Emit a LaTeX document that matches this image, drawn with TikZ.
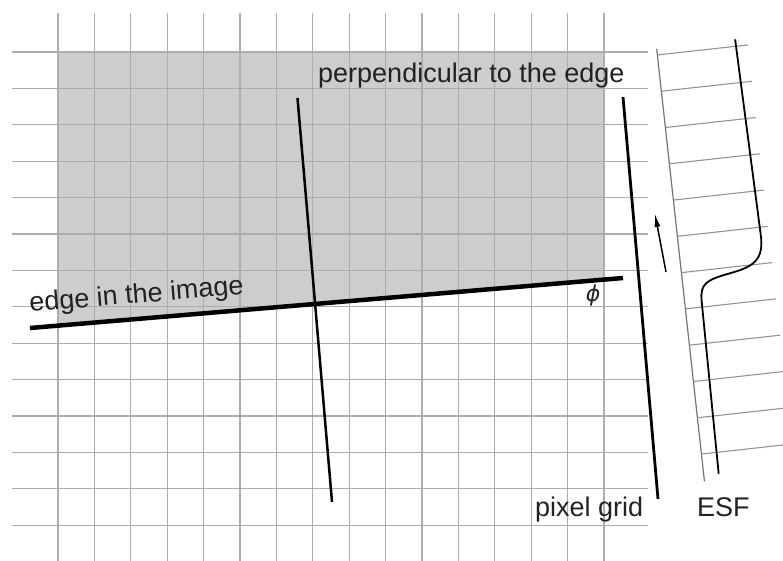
\documentclass[tikz,border=0pt]{standalone}
\usepackage{fontspec}
\setmainfont{Liberation Sans}
\newfontfamily\phifont{DejaVu Sans}
\usetikzlibrary{arrows.meta}
\definecolor{gridgray}{HTML}{ADADAD}
\definecolor{shadegray}{HTML}{CDCDCD}
\definecolor{ink}{HTML}{222222}

\begin{document}
\begin{tikzpicture}[x=1pt,y=-1pt,
    gridline/.style={draw=gridgray, line width=1.3pt},
    rung/.style={draw=gray!85, line width=1.1pt},
    label/.style={inner sep=0pt, text=ink, font=\fontsize{27}{30}\selectfont}]
    \useasboundingbox (0,0) rectangle (783,561);

    % Coordinates
    \coordinate (e1) at (30,328);
    \coordinate (e2) at (623,278);
    \coordinate (p1) at (297.5,98);
    \coordinate (p2) at (332,502);
    \coordinate (g1) at (623,97);
    \coordinate (g2) at (658,499);
    \coordinate (a1) at (666,272);
    \coordinate (a2) at (655,214);

    % Shaded side of the edge
    \fill[shadegray] (58,52) -- (604,52) -- (604,279.6) -- (58,325.6) -- cycle;

    % Pixel grid
    \foreach \i in {0,...,15}
        \draw[gridline] ({58+36.4*\i},13) -- ({58+36.4*\i},561);
    \foreach \j in {0,...,13}
        \draw[gridline] (12,{52+36.4*\j}) -- (648,{52+36.4*\j});

    % Lines
    \draw[line width=4.5pt] (e1) -- (e2);
    \draw[line width=2.5pt] (p1) -- (p2);
    \draw[line width=2.8pt] (g1) -- (g2);
    \draw[line width=1.5pt, -{Latex[length=13pt,width=6pt]}] (a1) -- (a2);

    % ESF
    \begin{scope}[shift={(656.7,49)}, rotate=6.3]
        \draw[draw=gray!90!black, line width=1.2pt] (0,0) -- (0,435);
        \foreach \k in {0,...,11}
            \draw[rung] (0,{6+36.5*\k}) -- (91,{6+36.5*\k});
        \draw[line width=1.8pt] (79,-1) -- (83,195)
            .. controls (84,222) and (72,227) .. (48,231)
            .. controls (24,235) and (17,238) .. (17,256) -- (15,429);
    \end{scope}

    % Labels
    \node[label, anchor=base west] (perp) at (318,83) {perpendicular to the edge};
    \node[label, anchor=base west, rotate=4.8] (edge) at (30,312) {edge in the image};
    \node[label, anchor=base west] (pixel) at (535,516) {pixel grid};
    \node[label, anchor=base west] (esf) at (697,516) {ESF};
    \node[label, font=\phifont\fontsize{22}{26}\selectfont\itshape] (phi) at (593,295) {ϕ};
\end{tikzpicture}
\end{document}
